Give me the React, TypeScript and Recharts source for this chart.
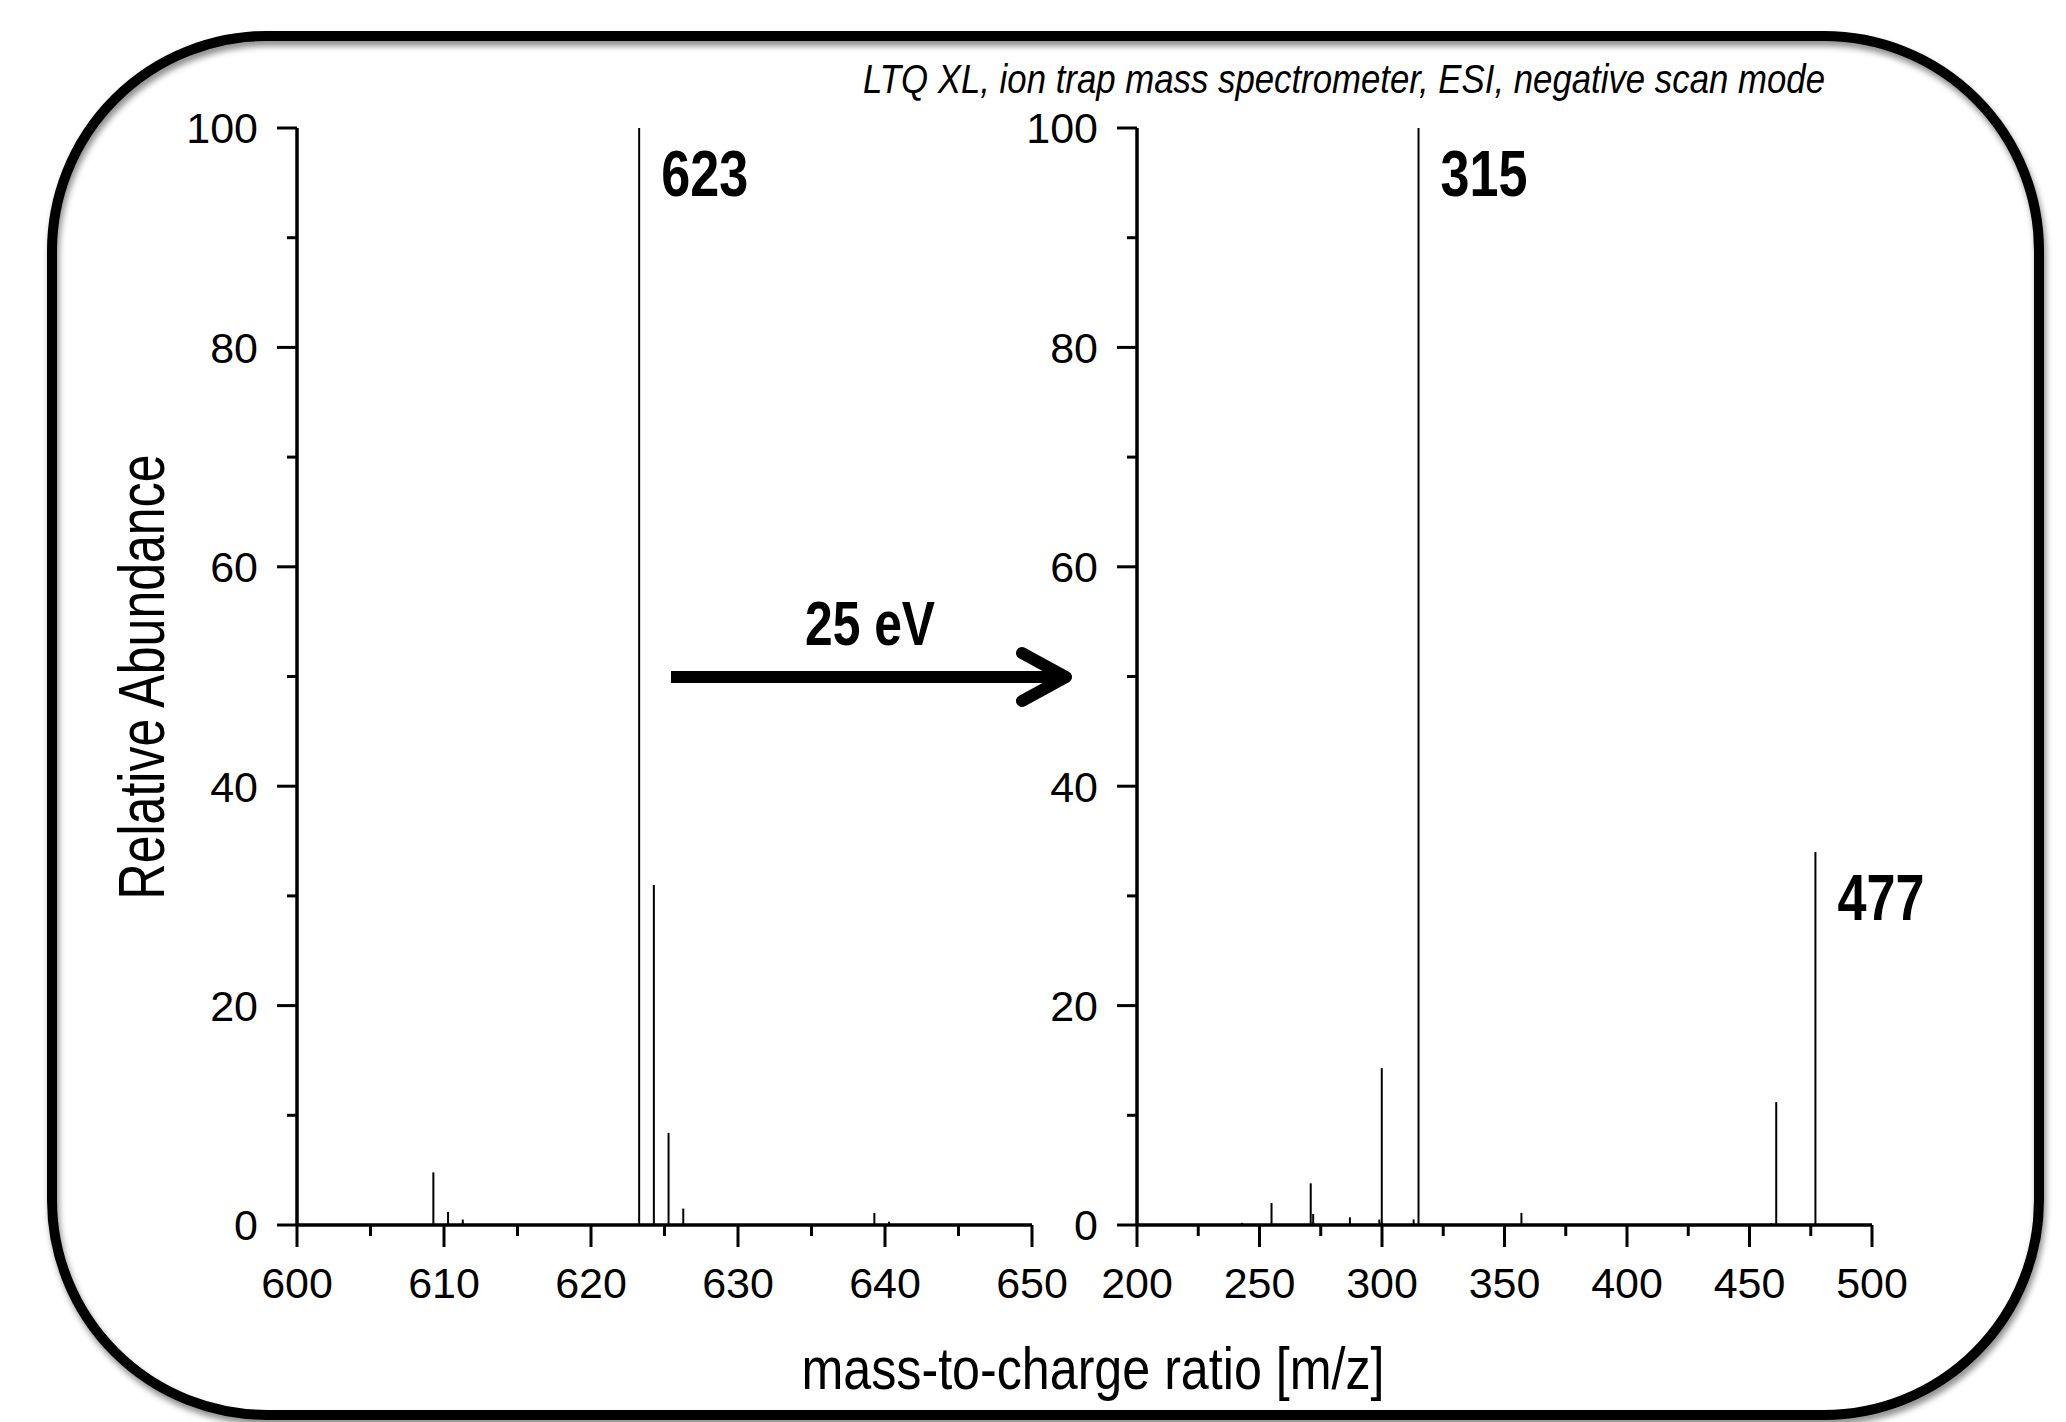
import React from "react";
import { ComposedChart, Bar, XAxis, YAxis, LabelList } from "recharts";

// precursor scan (left panel)
const precursorMz = [609.3, 610.3, 611.3, 623.3, 624.3, 625.3, 626.3, 639.3, 640.3];
const precursorAbundance = [4.8, 1.2, 0.5, 100, 31, 8.4, 1.5, 1.1, 0.3];
const precursorTags = ["", "", "", "623", "", "", "", "", ""];

// MS2 scan at 25 eV (right panel)
const fragmentMz = [243, 255, 271, 272, 287, 299, 300, 313, 315, 357, 459, 461, 477];
const fragmentAbundance = [0.2, 2.0, 3.8, 1.0, 0.7, 0.5, 14.3, 0.5, 100, 1.1, 0.15, 11.2, 34];
const fragmentTags = ["", "", "", "", "", "", "", "", "315", "", "", "", "477"];

const precursorMajorTicks = [600, 610, 620, 630, 640, 650];
const precursorMinorTicks = [605, 615, 625, 635, 645];
const fragmentMajorTicks = [200, 250, 300, 350, 400, 450, 500];
const fragmentMinorTicks = [225, 275, 325, 375, 425, 475];
const abundanceMajorTicks = [0, 20, 40, 60, 80, 100];
const abundanceMinorTicks = [10, 30, 50, 70, 90];

const title = "LTQ XL, ion trap mass spectrometer, ESI, negative scan mode";
const xTitle = "mass-to-charge ratio [m/z]";
const yTitle = "Relative Abundance";
const energyLabel = "25 eV";

const FONT = "'Liberation Sans', Arial, sans-serif";
const X_TICK = 22;
const X_GAP = 20;
const Y_TICK = 20;
const Y_GAP = 19;

const rows = (mz: number[], ab: number[], tags: string[]) =>
  mz.map((m, i) => ({ mz: m, abundance: ab[i], tag: tags[i] }));

const precursorData = rows(precursorMz, precursorAbundance, precursorTags);
const fragmentData = rows(fragmentMz, fragmentAbundance, fragmentTags);

const allTicks = (a: number[], b: number[]) => [...a, ...b].sort((p, q) => p - q);

function xTick(majors: number[]) {
  return (props: any) => {
    const { x, y, payload } = props;
    const major = majors.includes(payload.value);
    const axisY = y - X_TICK - X_GAP;
    return (
      <g>
        <line x1={x} x2={x} y1={axisY} y2={axisY + (major ? X_TICK : 11)} stroke="#000" strokeWidth={3} />
        {major && (
          <text x={x} y={y} dy="0.71em" textAnchor="middle" fontFamily={FONT} fontSize={43} fill="#000">
            {payload.value}
          </text>
        )}
      </g>
    );
  };
}

function yTick(props: any) {
  const { x, y, payload } = props;
  const major = abundanceMajorTicks.includes(payload.value);
  const axisX = x + Y_TICK + Y_GAP;
  return (
    <g>
      <line x1={axisX} x2={axisX - (major ? Y_TICK : 10)} y1={y} y2={y} stroke="#000" strokeWidth={3} />
      {major && (
        <text x={x} y={y} dy="0.36em" textAnchor="end" fontFamily={FONT} fontSize={43} fill="#000">
          {payload.value}
        </text>
      )}
    </g>
  );
}

function peakTag(props: any) {
  const { x, y, width, value } = props;
  if (!value) return null;
  return (
    <text
      x={x + width / 2 + 22}
      y={y + 68}
      fontFamily={FONT}
      fontWeight="bold"
      fontSize={64}
      textLength={87}
      lengthAdjust="spacingAndGlyphs"
      fill="#000"
    >
      {value}
    </text>
  );
}

interface SpectrumProps {
  data: { mz: number; abundance: number; tag: string }[];
  domain: [number, number];
  majors: number[];
  minors: number[];
  width: number;
  margin: { top: number; right: number; bottom: number; left: number };
}

function Spectrum({ data, domain, majors, minors, width, margin }: SpectrumProps) {
  return (
    <ComposedChart width={width} height={1422} data={data} margin={margin}>
      <XAxis
        dataKey="mz"
        type="number"
        domain={domain}
        allowDataOverflow
        ticks={allTicks(majors, minors)}
        interval={0}
        height={70}
        tickSize={X_TICK}
        tickMargin={X_GAP}
        tickLine={false}
        axisLine={{ stroke: "#000", strokeWidth: 3.5 }}
        tick={xTick(majors)}
      />
      <YAxis
        type="number"
        domain={[0, 100]}
        ticks={allTicks(abundanceMajorTicks, abundanceMinorTicks)}
        interval={0}
        width={60}
        tickSize={Y_TICK}
        tickMargin={Y_GAP}
        tickLine={false}
        axisLine={{ stroke: "#000", strokeWidth: 3.5 }}
        tick={yTick}
      />
      <Bar dataKey="abundance" fill="#000" barSize={2} isAnimationActive={false}>
        <LabelList dataKey="tag" content={peakTag} />
      </Bar>
    </ComposedChart>
  );
}

export default function App() {
  return (
    <div style={{ position: "absolute", left: 0, top: 0, width: 2066, height: 1422, background: "#fff", overflow: "hidden" }}>
      <svg width={2066} height={1422} style={{ position: "absolute", left: 0, top: 0 }}>
        <defs>
          <filter id="frameShadow" x="-5%" y="-5%" width="110%" height="110%">
            <feDropShadow dx="2" dy="5" stdDeviation="3" floodColor="#000" floodOpacity="0.45" />
          </filter>
        </defs>
        <rect x={52} y={36} width={1987} height={1379} rx={215} ry={215} fill="none" stroke="#000" strokeWidth={10} filter="url(#frameShadow)" />
      </svg>

      <div style={{ position: "absolute", left: 0, top: 0 }}>
        <Spectrum
          data={precursorData}
          domain={[600, 650]}
          majors={precursorMajorTicks}
          minors={precursorMinorTicks}
          width={1100}
          margin={{ top: 128, right: 68, bottom: 127, left: 237 }}
        />
      </div>
      <div style={{ position: "absolute", left: 1000, top: 0 }}>
        <Spectrum
          data={fragmentData}
          domain={[200, 500]}
          majors={fragmentMajorTicks}
          minors={fragmentMinorTicks}
          width={960}
          margin={{ top: 128, right: 88, bottom: 127, left: 77 }}
        />
      </div>

      <svg width={2066} height={1422} style={{ position: "absolute", left: 0, top: 0, pointerEvents: "none" }}>
        <text x={863} y={93} fontFamily={FONT} fontStyle="italic" fontSize={40} textLength={962} lengthAdjust="spacingAndGlyphs" fill="#000">
          {title}
        </text>
        <text x={805} y={645} fontFamily={FONT} fontWeight="bold" fontSize={63} textLength={130} lengthAdjust="spacingAndGlyphs" fill="#000">
          {energyLabel}
        </text>
        <line x1={671} x2={1060} y1={677} y2={677} stroke="#000" strokeWidth={12} />
        <polyline points="1022,653 1066,677 1022,701" fill="none" stroke="#000" strokeWidth={12} strokeLinecap="round" strokeLinejoin="round" />
        <text x={1093} y={1389} textAnchor="middle" fontFamily={FONT} fontSize={60} textLength={583} lengthAdjust="spacingAndGlyphs" fill="#000">
          {xTitle}
        </text>
        <text
          x={164}
          y={677}
          transform="rotate(-90 164 677)"
          textAnchor="middle"
          fontFamily={FONT}
          fontSize={64}
          textLength={445}
          lengthAdjust="spacingAndGlyphs"
          fill="#000"
        >
          {yTitle}
        </text>
      </svg>
    </div>
  );
}
